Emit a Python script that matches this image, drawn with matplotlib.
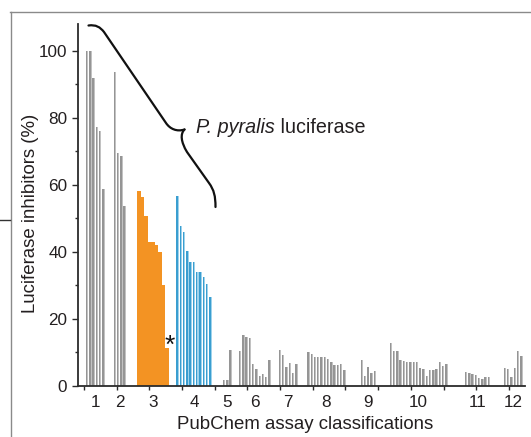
import matplotlib
matplotlib.use('Agg')
import matplotlib.pyplot as plt
from matplotlib.path import Path
from matplotlib.patches import PathPatch
from matplotlib.lines import Line2D
import numpy as np

plt.rcParams['font.family'] = ['Liberation Sans', 'DejaVu Sans']

# ---------------- data ----------------
group_labels = ['1', '2', '3', '4', '5', '6', '7', '8', '9', '10', '11', '12']
g1 = [100, 100, 91.8, 77.2, 76.0, 58.8]
g2 = [93.8, 69.4, 68.7, 53.8]
g3 = [58.2, 56.4, 50.7, 43.0, 43.0, 42.0, 39.9, 30.1, 11.2]
g4 = [56.8, 47.8, 46.0, 40.2, 36.9, 36.9, 33.9, 33.9, 32.6, 30.5, 26.4]
g5 = [1.6, 1.6, 10.8]
g6 = [10.5, 15.2, 14.6, 14.3, 6.5, 4.9, 3.0, 3.6, 2.7, 7.6]
g7 = [10.6, 9.1, 5.7, 6.9, 3.9, 6.5]
g8 = [10.0, 9.4, 8.7, 8.7, 8.7, 8.5, 8.1, 7.1, 6.3, 6.2, 6.5, 4.7]
g9 = [7.8, 2.9, 5.6, 3.8, 4.4]
g10 = [12.9, 10.5, 10.5, 7.8, 7.3, 7.1, 7.1, 7.1, 7.0, 5.3, 5.0, 2.9,
       4.7, 4.7, 4.9, 7.1, 5.9, 6.4]
g11 = [4.0, 3.7, 3.6, 3.3, 2.3, 2.0, 2.7, 2.7]
g12 = [5.4, 5.0, 2.7, 5.4, 10.5, 8.8]
groups = [g1, g2, g3, g4, g5, g6, g7, g8, g9, g10, g11, g12]

x_label = 'PubChem assay classifications'
y_label = 'Luciferase inhibitors (%)'

# ---------------- layout ----------------
W, H = 531, 437
fig = plt.figure(figsize=(W / 100, H / 100), dpi=100)

def fx(px):
    return px / W

def fy(py):
    return 1 - py / H

L_px, R_px, T_px, B_px = 78.3, 525.0, 24.0, 385.7
ax = fig.add_axes([fx(L_px), fy(B_px), fx(R_px) - fx(L_px), fy(T_px) - fy(B_px)])

x0_px, unit_px = 83.8, 3.27          # pixel of x = 0, pixels per bar slot
ax.set_xlim((L_px - x0_px) / unit_px, (R_px - x0_px) / unit_px)
ax.set_ylim(0, (B_px - T_px) / 3.347)

starts = [1.0, 9.5, 16.4, 28.7, 42.9, 47.8, 60.0, 68.7, 85.0, 93.9, 116.9, 128.8]
orange_idx, blue_idx = 2, 3
orange_pitch = 1.067

gray_light, gray_dark = '#c2c2c2', '#959595'
blue_light, blue_dark = '#9fd3ec', '#3a9ed0'
orange = '#f39323'

centers = []
for gi, (vals, s) in enumerate(zip(groups, starts)):
    n = len(vals)
    if gi == orange_idx:
        xs = s + (np.arange(n) + 0.5) * orange_pitch
        ax.bar(xs, vals, width=orange_pitch * 0.96, color=orange, linewidth=0)
    else:
        xs = s + np.arange(n)
        if gi == blue_idx:
            lc, dc, wl, wd = blue_light, blue_dark, 0.78, 0.46
        else:
            lc, dc, wl, wd = gray_light, gray_dark, 0.74, 0.44
        ax.bar(xs, vals, width=wl, color=lc, linewidth=0)
        ax.bar(xs - (wl - wd) / 2, vals, width=wd, color=dc, linewidth=0)
    centers.append((xs.min() + xs.max()) / 2)

# axes styling
for sp in ['top', 'right']:
    ax.spines[sp].set_visible(False)
for sp in ['left', 'bottom']:
    ax.spines[sp].set_color('#2b2b2b')
    ax.spines[sp].set_linewidth(1.3)

ax.set_yticks([0, 20, 40, 60, 80, 100])
ax.set_yticks([10, 30, 50, 70, 90], minor=True)
ax.tick_params(axis='y', which='major', length=4.5, width=1.0, pad=3.5,
               labelsize=12.3, colors='#2b2b2b', labelcolor='#231f20')
ax.tick_params(axis='y', which='minor', length=2.5, width=1.0, colors='#2b2b2b')

ax.set_xticks(centers)
ax.set_xticklabels(group_labels)
ax.set_xticks(np.arange(0, 140, 10), minor=True)
ax.tick_params(axis='x', which='major', length=0, pad=7, labelsize=12.3,
               labelcolor='#231f20')
ax.tick_params(axis='x', which='minor', length=3, width=1.0, colors='#2b2b2b')

fig.text(fx(305.3), fy(428.7), x_label, ha='center', va='baseline',
         fontsize=13.4, color='#231f20')
fig.text(fx(30.5), fy(312.7), y_label, rotation=90, ha='center', va='bottom',
         fontsize=13.4, color='#231f20')

# ---------------- annotations ----------------
def P(px, py):
    return (fx(px), fy(py))

verts = [P(88.5, 25.5), P(96, 24.5), P(100, 27), P(104, 32),
         P(166, 123),
         P(170, 129), P(177, 132), P(184.5, 129.5)]
codes = [Path.MOVETO, Path.CURVE4, Path.CURVE4, Path.CURVE4,
         Path.LINETO,
         Path.CURVE4, Path.CURVE4, Path.CURVE4]
fig.patches.append(PathPatch(Path(verts, codes), transform=fig.transFigure,
                             fill=False, lw=1.6, color='#111111',
                             capstyle='round', joinstyle='round'))
verts2 = [P(184.5, 129.5), P(180, 134), P(181, 142), P(187, 152),
          P(209, 183),
          P(214, 190), P(215.5, 196), P(215.5, 207)]
codes2 = [Path.MOVETO, Path.CURVE4, Path.CURVE4, Path.CURVE4,
          Path.LINETO,
          Path.CURVE4, Path.CURVE4, Path.CURVE4]
fig.patches.append(PathPatch(Path(verts2, codes2), transform=fig.transFigure,
                             fill=False, lw=1.6, color='#111111',
                             capstyle='round', joinstyle='round'))

t1 = fig.text(fx(196), fy(133), 'P. pyralis', style='italic', ha='left',
              va='baseline', fontsize=14.2, color='#231f20')
fig.canvas.draw()
bb = t1.get_window_extent()
fig.text(bb.x1 / fig.dpi / fig.get_figwidth(), fy(133), ' luciferase',
         ha='left', va='baseline', fontsize=14.2, color='#231f20')

fig.text(fx(170), fy(346), '*', ha='center', va='center', fontsize=19,
         color='#111111')

# panel border remnants
fig.add_artist(Line2D([fx(10), fx(531)], [fy(12), fy(12)], color='#8a8a8a',
                      lw=1.0, transform=fig.transFigure))
fig.add_artist(Line2D([fx(11), fx(11)], [fy(12), fy(437)], color='#8a8a8a',
                      lw=1.0, transform=fig.transFigure))
fig.add_artist(Line2D([fx(0), fx(10)], [fy(220), fy(220)], color='#333333',
                      lw=1.0, transform=fig.transFigure))

fig.savefig('out.png', dpi=100)
